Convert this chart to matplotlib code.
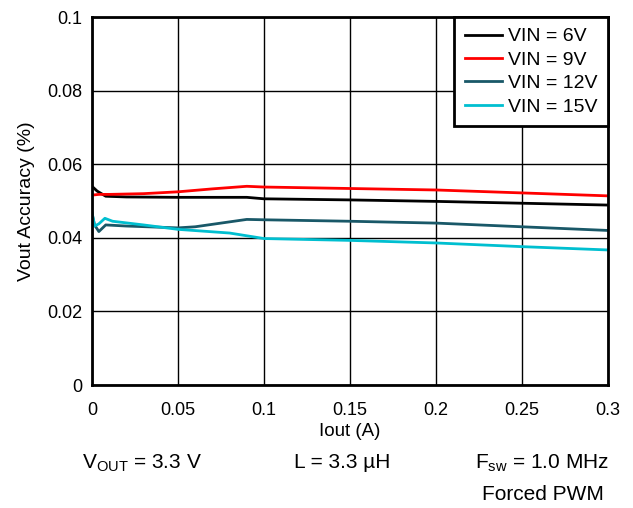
import matplotlib.pyplot as plt

plt.rcParams["font.family"] = ["Liberation Sans", "DejaVu Sans"]

# Data
iout_6 = [0.0, 0.003, 0.008, 0.02, 0.05, 0.09, 0.1, 0.15, 0.2, 0.25, 0.3]
vin_6 = [0.0540, 0.0527, 0.0513, 0.0511, 0.0510, 0.0510, 0.0506, 0.0503, 0.0499, 0.0494, 0.0489]

iout_9 = [0.0, 0.004, 0.01, 0.03, 0.05, 0.07, 0.09, 0.1, 0.15, 0.2, 0.25, 0.3]
vin_9 = [0.0516, 0.0518, 0.0518, 0.0520, 0.0525, 0.0533, 0.0540, 0.0538, 0.0534, 0.0530, 0.0522, 0.0514]

iout_12 = [0.0, 0.0015, 0.004, 0.008, 0.02, 0.05, 0.06, 0.09, 0.1, 0.15, 0.2, 0.25, 0.3]
vin_12 = [0.0467, 0.0435, 0.0417, 0.0435, 0.0432, 0.0427, 0.0430, 0.0450, 0.0449, 0.0445, 0.0440, 0.0430, 0.0420]

iout_15 = [0.0, 0.0015, 0.004, 0.0075, 0.012, 0.03, 0.05, 0.08, 0.1, 0.15, 0.2, 0.25, 0.3]
vin_15 = [0.0470, 0.0432, 0.0438, 0.0453, 0.0445, 0.0435, 0.0423, 0.0413, 0.0398, 0.0393, 0.0386, 0.0376, 0.0367]

labels = ["VIN = 6V", "VIN = 9V", "VIN = 12V", "VIN = 15V"]
colors = ["#000000", "#ff0000", "#195868", "#00bfd0"]

fig = plt.figure(figsize=(6.33, 5.08), dpi=100)
ax = fig.add_axes([0.1453, 0.2421, 0.8152, 0.7244])

series = [(iout_6, vin_6), (iout_9, vin_9), (iout_12, vin_12), (iout_15, vin_15)]
for (x, y), lab, c in zip(series, labels, colors):
    ax.plot(x, y, color=c, lw=2.0, label=lab)

ax.set_xlim(0, 0.3)
ax.set_ylim(0, 0.1)
ax.set_xticks([0, 0.05, 0.1, 0.15, 0.2, 0.25, 0.3])
ax.set_xticklabels(["0", "0.05", "0.1", "0.15", "0.2", "0.25", "0.3"])
ax.set_yticks([0, 0.02, 0.04, 0.06, 0.08, 0.1])
ax.set_yticklabels(["0", "0.02", "0.04", "0.06", "0.08", "0.1"])
ax.grid(True, color="black", lw=1.0)
ax.tick_params(length=0, labelsize=13)
ax.tick_params(axis="x", pad=12)
ax.tick_params(axis="y", pad=7)
for s in ax.spines.values():
    s.set_linewidth(2.0)
    s.set_color("black")

ax.set_xlabel("Iout (A)", fontsize=13.5, labelpad=3)
ax.set_ylabel("Vout Accuracy (%)", fontsize=14, labelpad=9)

leg = ax.legend(loc="upper right", fontsize=14, frameon=True, fancybox=False,
                borderaxespad=0, handlelength=1.9, labelspacing=0.3,
                borderpad=0.55, handletextpad=0.3)
leg.get_frame().set_edgecolor("black")
leg.get_frame().set_linewidth(2.0)
leg.get_frame().set_alpha(1.0)

fig.text(142 / 633, 1 - 463 / 508, r"V$_{\mathregular{OUT}}$ = 3.3 V", ha="center", va="center", fontsize=15)
fig.text(342 / 633, 1 - 463 / 508, "L = 3.3 µH", ha="center", va="center", fontsize=15)
fig.text(542 / 633, 1 - 463 / 508, r"F$_{\mathregular{sw}}$ = 1.0 MHz", ha="center", va="center", fontsize=15)
fig.text(543 / 633, 1 - 494 / 508, "Forced PWM", ha="center", va="center", fontsize=15)

fig.savefig("out.png", dpi=100)
